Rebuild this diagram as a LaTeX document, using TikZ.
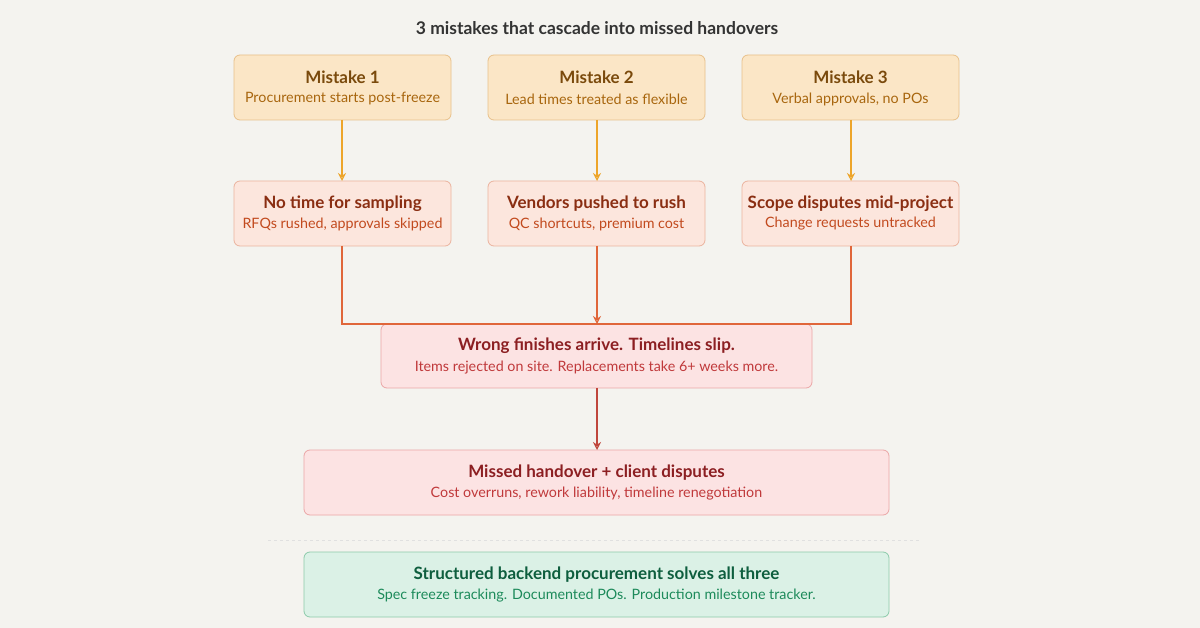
\documentclass[tikz,border=0pt]{standalone}
\usepackage{fontspec}
\setmainfont{Lato}
\usetikzlibrary{arrows.meta}
\definecolor{bg}{HTML}{F4F3EF}
\definecolor{ofill}{HTML}{FBE6C6}\definecolor{odraw}{HTML}{E8C08A}\definecolor{otext}{HTML}{7A4A0C}\definecolor{osub}{HTML}{A8660E}
\definecolor{pfill}{HTML}{FCE6DD}\definecolor{pdraw}{HTML}{EBB39E}\definecolor{ptext}{HTML}{8A2E12}\definecolor{psub}{HTML}{C24A1E}
\definecolor{rfill}{HTML}{FCE3E3}\definecolor{rdraw}{HTML}{EBA6A6}\definecolor{rtext}{HTML}{8C1F22}\definecolor{rsub}{HTML}{C0393B}
\definecolor{gfill}{HTML}{DBF1E6}\definecolor{gdraw}{HTML}{8CCBAA}\definecolor{gtext}{HTML}{0E5E3E}\definecolor{gsub}{HTML}{1C8A5A}
\definecolor{aor}{HTML}{EDA52A}\definecolor{ared}{HTML}{E0663A}\definecolor{adk}{HTML}{C0463C}
\begin{document}
\begin{tikzpicture}[x=1pt,y=-1pt,
 box/.style={rounded corners=6pt,line width=0.8pt},
 ttl/.style={font=\fontsize{17}{20}\selectfont\bfseries},
 sub/.style={font=\fontsize{14.3}{17}\selectfont},
 arr/.style={line width=1.2pt,-{Stealth[length=8pt,width=8pt,open]}}]
\fill[bg] (0,0) rectangle (1200,628);
\useasboundingbox (0,0) rectangle (1200,628);
\node (title) at (597,28) {\fontsize{17.5}{20}\selectfont\bfseries\color[HTML]{333333}3 mistakes that cascade into missed handovers};
\newcommand\mybox[9]{%
 \filldraw[box,fill=#6,draw=#7] (#2,#3) rectangle (#4,#5);
 \node (#1) at ({(#2+#4)/2},{(#3+#5)/2}) {};
 \node[ttl,text=#8] at ({(#2+#4)/2},{(#3+#5)/2-10}) {#9};}
\newcommand\subt[4]{\node[sub,text=#4] at (#1,#2) {#3};}
\mybox{m1}{234}{55}{451}{120}{ofill}{odraw}{otext}{Mistake 1}
\subt{342.5}{99}{Procurement starts post-freeze}{osub}
\mybox{m2}{488}{55}{705}{120}{ofill}{odraw}{otext}{Mistake 2}
\subt{596.5}{99}{Lead times treated as flexible}{osub}
\mybox{m3}{742}{55}{959}{120}{ofill}{odraw}{otext}{Mistake 3}
\subt{850.5}{99}{Verbal approvals, no POs}{osub}
\mybox{c1}{234}{181}{451}{246}{pfill}{pdraw}{ptext}{No time for sampling}
\subt{342.5}{224}{RFQs rushed, approvals skipped}{psub}
\mybox{c2}{488}{181}{705}{246}{pfill}{pdraw}{ptext}{Vendors pushed to rush}
\subt{596.5}{224}{QC shortcuts, premium cost}{psub}
\mybox{c3}{742}{181}{959}{246}{pfill}{pdraw}{ptext}{Scope disputes mid-project}
\subt{850.5}{224}{Change requests untracked}{psub}
\mybox{w}{381}{324}{812}{388}{rfill}{rdraw}{rtext}{Wrong finishes arrive. Timelines slip.}
\subt{596.5}{368}{Items rejected on site. Replacements take 6+ weeks more.}{rsub}
\mybox{h}{304}{450}{889}{515}{rfill}{rdraw}{rtext}{Missed handover + client disputes}
\subt{596.5}{494}{Cost overruns, rework liability, timeline renegotiation}{rsub}
\draw[dash pattern=on 3pt off 3pt,line width=0.6pt,color=black!12] (268,540)--(920,540);
\mybox{s}{304}{552}{889}{617}{gfill}{gdraw}{gtext}{Structured backend procurement solves all three}
\subt{596.5}{596}{Spec freeze tracking. Documented POs. Production milestone tracker.}{gsub}
\draw[arr,aor] (342,120)--(342,181);
\draw[arr,aor] (597,120)--(597,181);
\draw[arr,aor] (851,120)--(851,181);
\draw[line width=1.2pt,ared] (342,246)--(342,324)--(597,324);
\draw[line width=1.2pt,ared] (851,246)--(851,324)--(597,324);
\draw[arr,ared] (597,246)--(597,324);
\draw[arr,adk] (597,388)--(597,450);
\end{tikzpicture}
\end{document}
